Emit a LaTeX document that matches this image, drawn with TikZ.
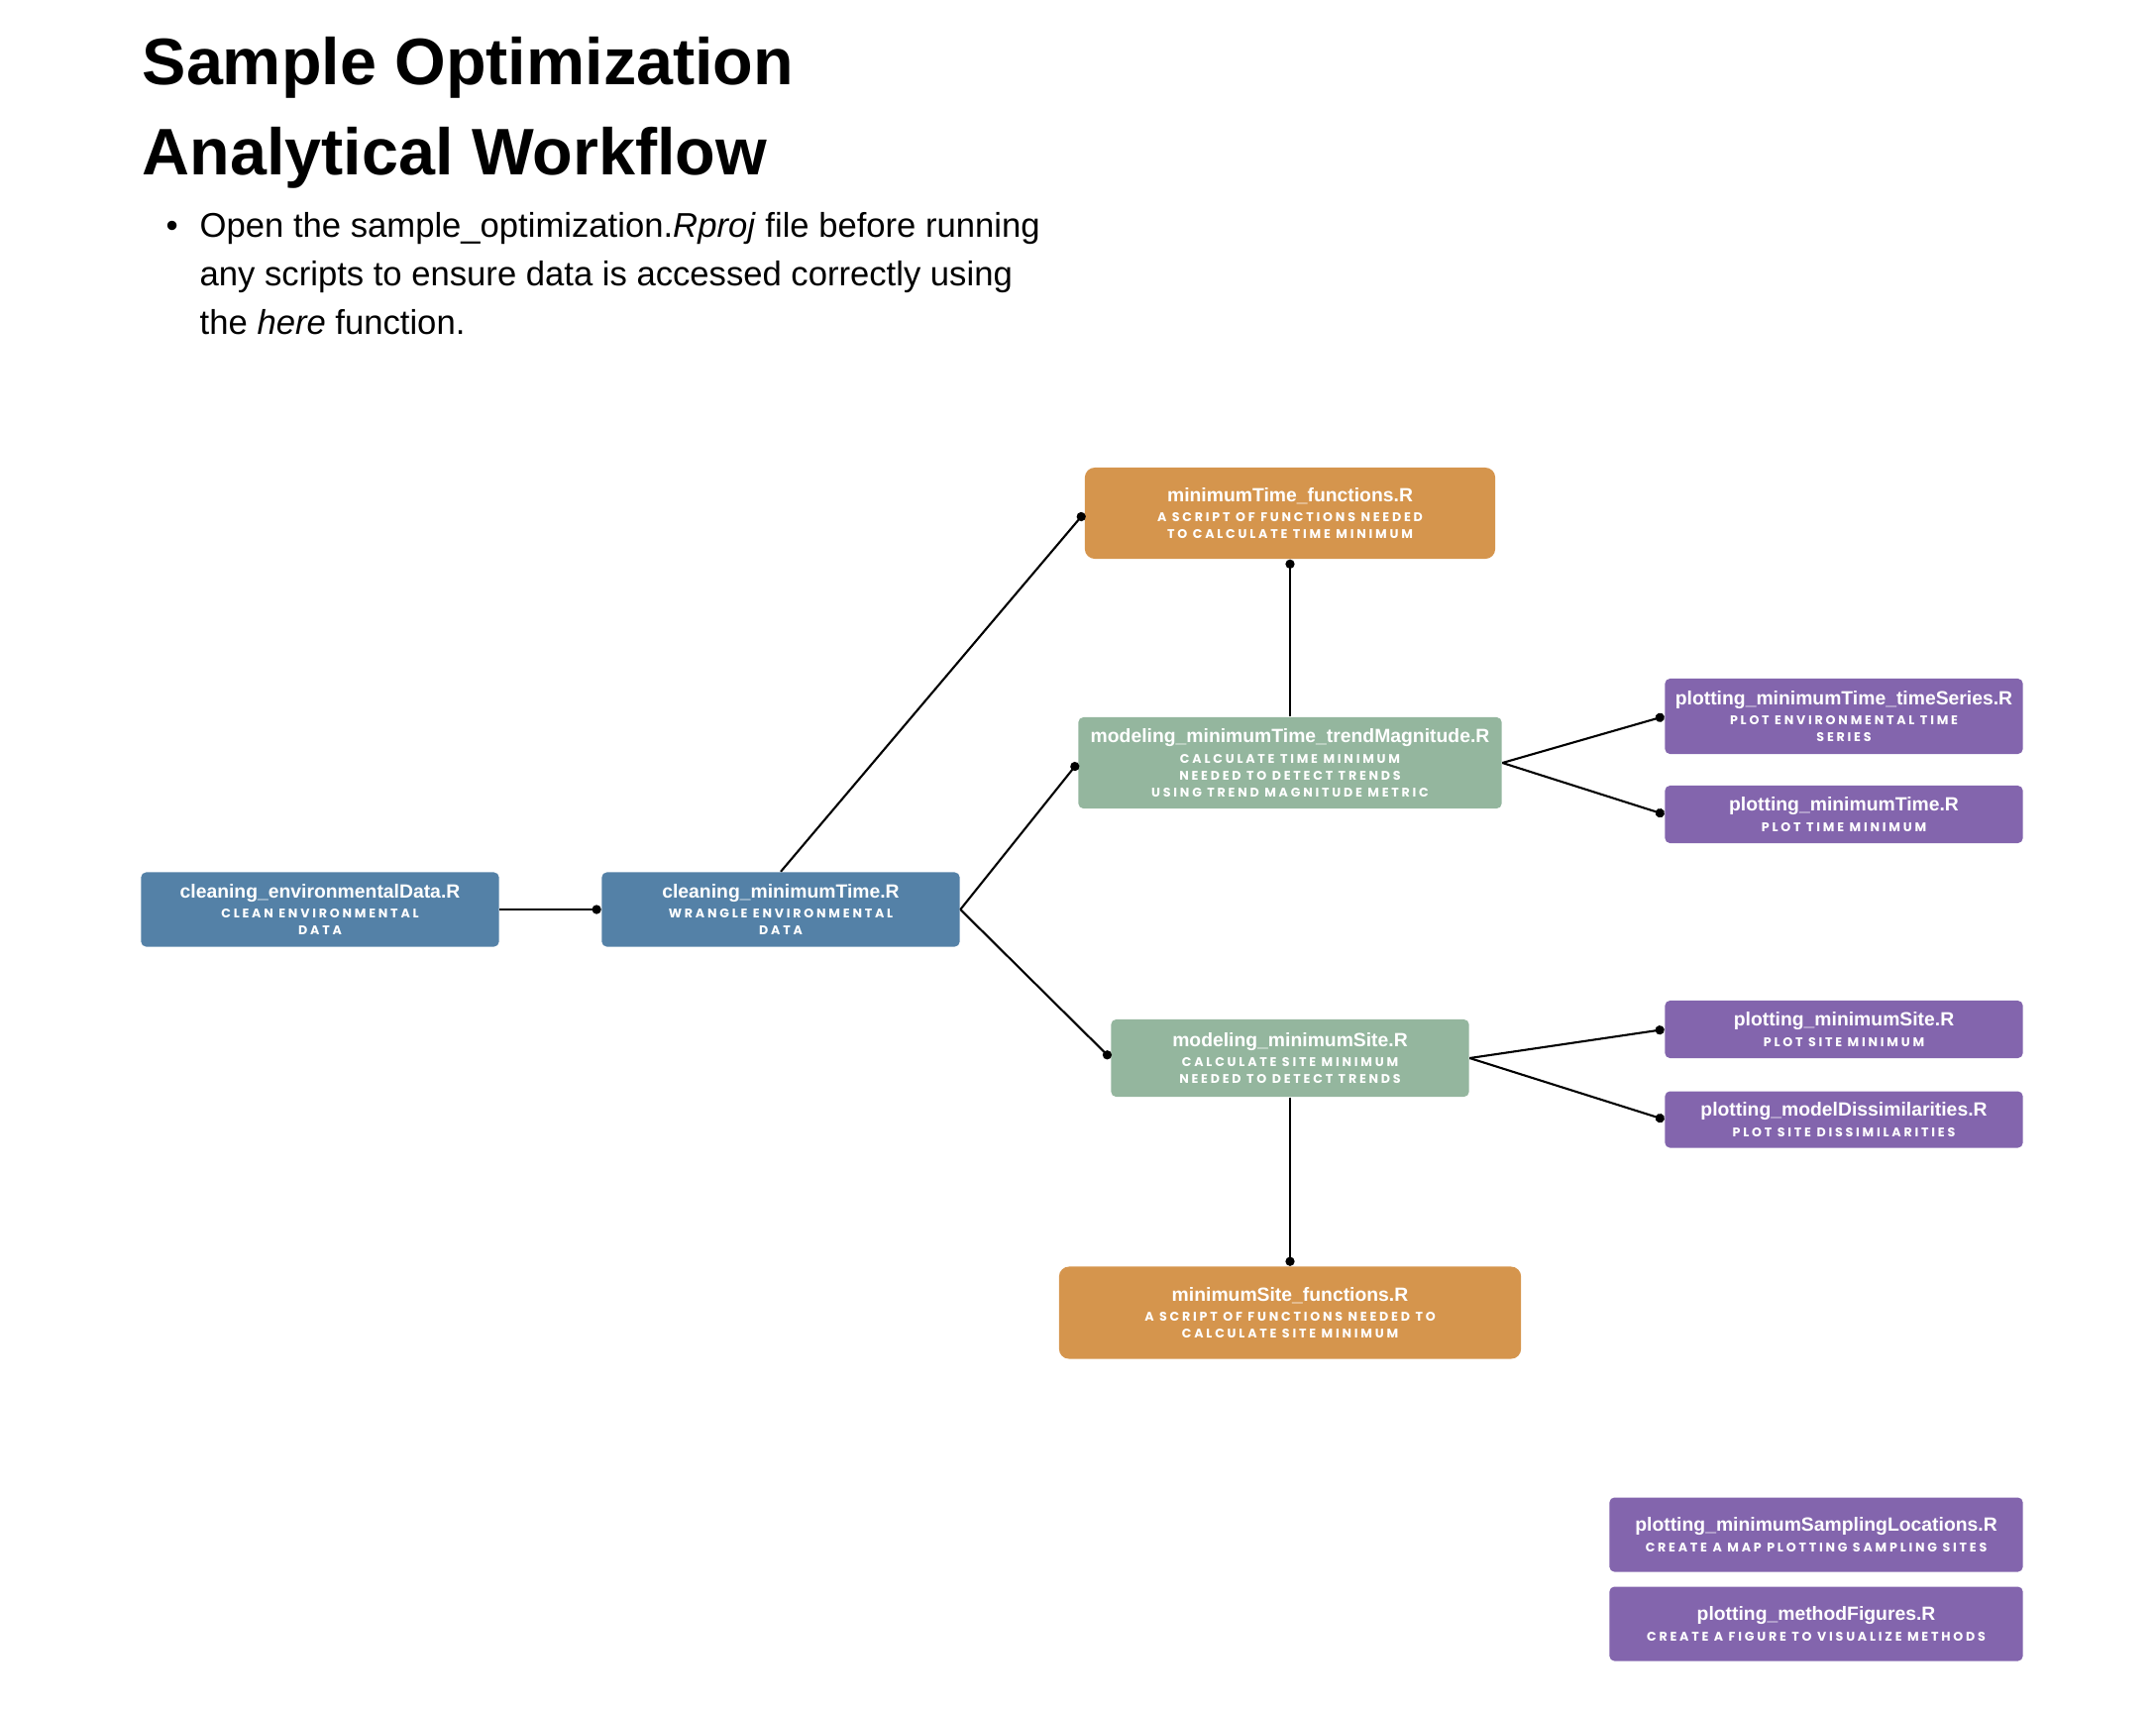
\documentclass[tikz,border=0pt]{standalone}
\usepackage{fontspec}
\setmainfont{Liberation Sans}
\newfontfamily\namefont{Liberation Sans}
\newfontfamily\capsfont[LetterSpace=22]{Poppins}
\usetikzlibrary{arrows.meta}
\usepackage{xcolor}
\definecolor{cleanblue}{HTML}{5481A7}
\definecolor{funcorange}{HTML}{D5954D}
\definecolor{modelgreen}{HTML}{94B69E}
\definecolor{plotpurple}{HTML}{8365AD}
\newcommand\rname[1]{{\namefont\fontsize{5.5pt}{6pt}\selectfont\bfseries #1}\\[1.1pt]}

\begin{document}
\begin{tikzpicture}[x=0.01cm,y=-0.01cm,
  rbox/.style={rectangle, rounded corners=0.05cm, inner sep=0pt, align=center, text=white,
    font=\capsfont\bfseries\fontsize{3.6pt}{4.84pt}\selectfont},
  clean/.style={rbox, fill=cleanblue, minimum width=3.61cm, minimum height=0.75cm},
  helper/.style={rbox, fill=funcorange, rounded corners=0.1cm, minimum height=0.92cm},
  model/.style={rbox, fill=modelgreen},
  plot/.style={rbox, fill=plotpurple, minimum width=3.61cm},
  wire/.style={line width=0.6pt, -{Circle[length=2.6pt]}}]
\useasboundingbox (0,0) rectangle (2176,1724);
\node[anchor=base west, align=left, inner sep=0pt, font=\fontsize{18.9pt}{25.6pt}\selectfont\bfseries] (title) at (143,176)
  {Sample Optimization\\Analytical Workflow};
\node[anchor=base west, align=left, inner sep=0pt, font=\fontsize{9.85pt}{13.8pt}\selectfont] (note) at (167,337)
  {\makebox[0.34cm][l]{\textbullet}Open the sample\_optimization.\textit{Rproj} file before running\\
   \hspace*{0.34cm}any scripts to ensure data is accessed correctly using\\
   \hspace*{0.34cm}the \textit{here} function.};

\node[clean] (envdata) at (323,918) {\rname{cleaning\_environmentalData.R}CLEAN ENVIRONMENTAL\\DATA};
\node[clean] (mintime) at (788,918) {\rname{cleaning\_minimumTime.R}WRANGLE ENVIRONMENTAL\\DATA};
\node[helper, minimum width=4.14cm] (timefun) at (1302,518)
  {\rname{minimumTime\_functions.R}A SCRIPT OF FUNCTIONS NEEDED\\TO CALCULATE TIME MINIMUM};
\node[model, minimum width=4.27cm, minimum height=0.92cm] (timemod) at (1302,770)
  {\rname{modeling\_minimumTime\_trendMagnitude.R}CALCULATE TIME MINIMUM\\NEEDED TO DETECT TRENDS\\USING TREND MAGNITUDE METRIC};
\node[model, minimum width=3.61cm, minimum height=0.78cm] (sitemod) at (1302,1068)
  {\rname{modeling\_minimumSite.R}CALCULATE SITE MINIMUM\\NEEDED TO DETECT TRENDS};
\node[helper, minimum width=4.66cm, minimum height=0.93cm] (sitefun) at (1302,1325)
  {\rname{minimumSite\_functions.R}A SCRIPT OF FUNCTIONS NEEDED TO\\CALCULATE SITE MINIMUM};
\node[plot, minimum height=0.76cm] (timeseries) at (1861,723)
  {\rname{plotting\_minimumTime\_timeSeries.R}PLOT ENVIRONMENTAL TIME\\SERIES};
\node[plot, minimum height=0.58cm] (timeplot) at (1861,822) {\rname{plotting\_minimumTime.R}PLOT TIME MINIMUM};
\node[plot, minimum height=0.58cm] (siteplot) at (1861,1039) {\rname{plotting\_minimumSite.R}PLOT SITE MINIMUM};
\node[plot, minimum height=0.57cm] (dissplot) at (1861,1130)
  {\rname{plotting\_modelDissimilarities.R}PLOT SITE DISSIMILARITIES};
\node[plot, minimum width=4.17cm, minimum height=0.75cm] (mapplot) at (1833,1549)
  {\rname{plotting\_minimumSamplingLocations.R}CREATE A MAP PLOTTING SAMPLING SITES};
\node[plot, minimum width=4.17cm, minimum height=0.75cm] (figplot) at (1833,1639)
  {\rname{plotting\_methodFigures.R}CREATE A FIGURE TO VISUALIZE METHODS};

\draw[wire] (envdata.east)--(mintime.west);
\draw[wire] (mintime.north)--(timefun.west);
\draw[wire] (timemod.north)--(timefun.south);
\draw[wire] (sitemod.south)--(sitefun.north);
\foreach \m in {timemod,sitemod}
  \draw[wire] (mintime.east)--(\m.west);
\foreach \p in {timeseries,timeplot}
  \draw[wire] (timemod.east)--(\p.west);
\foreach \p in {siteplot,dissplot}
  \draw[wire] (sitemod.east)--(\p.west);
\end{tikzpicture}
\end{document}
